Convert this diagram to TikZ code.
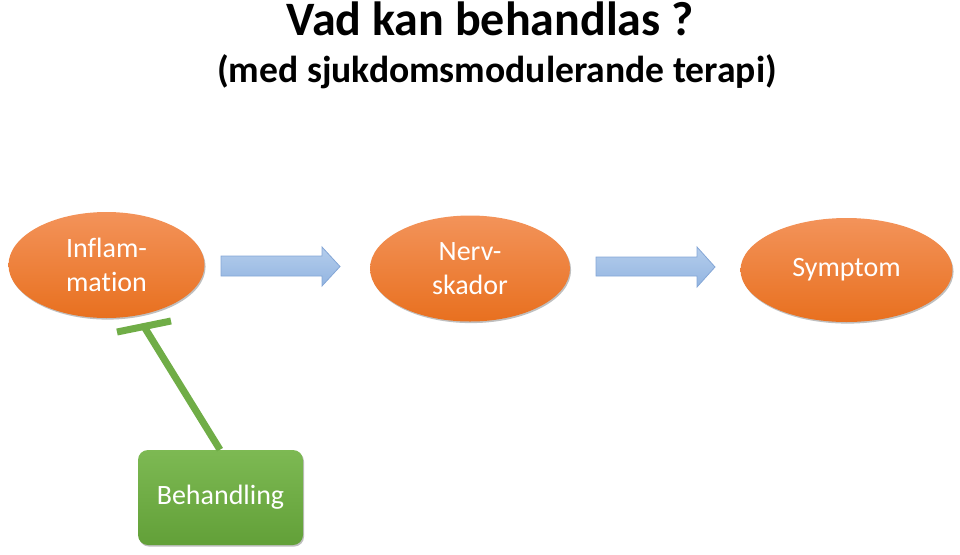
\documentclass[tikz,border=0pt]{standalone}
\usepackage{fontspec}
\setmainfont{Carlito}[Ligatures=NoCommon]
\usetikzlibrary{shapes.geometric,shadows}
\definecolor{orTop}{HTML}{F3935A}
\definecolor{orBot}{HTML}{E8701F}
\definecolor{grTop}{HTML}{7DB953}
\definecolor{grBot}{HTML}{62A038}
\definecolor{grLine}{HTML}{70AD47}
\definecolor{blTop}{HTML}{B4CDEC}
\definecolor{blBot}{HTML}{93B5E1}
\definecolor{blEdge}{HTML}{84A6D6}
\tikzset{
  oval/.style={ellipse, inner sep=0pt, top color=orTop, bottom color=orBot, draw=none,
    text=white, align=center, font=\fontsize{21}{25}\selectfont,
    drop shadow={shadow xshift=0.8pt, shadow yshift=-1.2pt, fill=black, opacity=0.25}},
  greenbox/.style={rectangle, rounded corners=7.5pt, inner sep=0pt, top color=grTop, bottom color=grBot,
    draw=none, text=white, font=\fontsize{21}{25}\selectfont,
    minimum width=123.75pt, minimum height=71.25pt,
    drop shadow={shadow xshift=0.8pt, shadow yshift=-1.2pt, fill=black, opacity=0.25}},
  blockarrow/.style={top color=blTop, bottom color=blBot, draw=blEdge, line width=0.6pt, line join=miter},
  inhibit/.style={draw=grLine, line width=5.25pt},
  titletext/.style={font=\fontsize{36}{40}\selectfont\bfseries, anchor=base},
  subtext/.style={font=\fontsize{28.2}{32}\selectfont\bfseries, anchor=base}
}
\begin{document}
\begin{tikzpicture}[x=0.75pt, y=-0.75pt]
\useasboundingbox (0,0) rectangle (960,554);
\node[titletext] (title) at (490,35.5) {Vad kan behandlas ?};
\node[subtext] (sub) at (497,82) {(med sjukdomsmodulerande terapi)};
\node[oval, minimum width=147pt, minimum height=79.5pt] (infl) at (106.5,265) {Inflam-\\mation};
\node[oval, minimum width=150pt, minimum height=79.5pt] (nerv) at (470,268.5) {Nerv-\\skador};
\node[oval, minimum width=159pt, minimum height=78pt] (symp) at (846.5,270) {Symptom};
\node[greenbox] (beh) at (220.5,497.5) {Behandling};
% block arrows
\path[blockarrow] (221,256) -- (322,256) -- (322,247) -- (340,266.5) -- (322,286) -- (322,276) -- (221,276) -- cycle;
\path[blockarrow] (596,257) -- (697,257) -- (697,247) -- (715,267) -- (697,287) -- (697,276) -- (596,276) -- cycle;
% inhibition line
\coordinate (tmid) at (144,326.5);
\coordinate (tl) at (117,332);
\coordinate (tr) at (171,321);
\draw[inhibit] (beh.north -| 220,0) -- (tmid);
\draw[inhibit] (tl) -- (tr);
\end{tikzpicture}
\end{document}
